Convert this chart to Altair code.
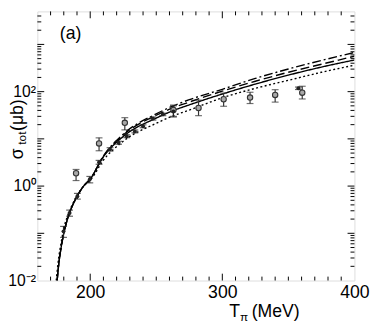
import altair as alt
import pandas as pd

# ---------------- data ----------------
# theoretical curves: T_pi (MeV) and log10(sigma)
curve_T = [174.3, 175, 176, 178, 180, 183, 186, 190, 195, 200, 210, 225, 250, 263, 275, 300, 325, 350, 375, 400]
solid_log = [-2.3, -2.0, -1.7, -1.3, -1.0, -0.68, -0.45, -0.22, 0.0, 0.15, 0.62, 1.05, 1.44, 1.60, 1.72, 1.95, 2.16, 2.35, 2.52, 2.67]
dash_log = [-2.3, -2.0, -1.7, -1.3, -1.0, -0.68, -0.45, -0.22, 0.0, 0.15, 0.63, 1.08, 1.50, 1.66, 1.78, 2.01, 2.22, 2.41, 2.58, 2.75]
dashdot_log = [-2.3, -2.0, -1.7, -1.3, -1.0, -0.68, -0.45, -0.22, 0.0, 0.15, 0.64, 1.10, 1.53, 1.70, 1.83, 2.05, 2.28, 2.48, 2.66, 2.83]
dotted_log = [-2.0, -1.8, -1.55, -1.2, -0.9, -0.62, -0.42, -0.20, 0.0, 0.12, 0.55, 0.95, 1.33, 1.49, 1.61, 1.87, 2.07, 2.24, 2.41, 2.56]

# open-circle data set
open_T = [189.3, 206.7, 226.2, 263, 282, 301, 321, 340, 360.5]
open_sig = [1.87, 8.0, 21.9, 41, 45, 69, 75, 85, 95]
open_lo = [1.31, 5.6, 15.5, 30, 31, 49, 56, 60, 70]
open_hi = [2.25, 10.5, 28.1, 52, 66, 93, 97, 110, 130]

# filled data set
fill_T = [179.8, 184.4, 190.3, 199.7, 206.7, 215, 221.5, 227.7, 233.8, 240, 247.5, 255, 263, 357.6]
fill_sig = [0.11, 0.27, 0.61, 1.39, 3.2, 6.0, 8.3, 11.4, 14.4, 18.5, 27, 33, 38, 118]
fill_lo = [0.082, 0.23, 0.53, 1.17, 2.9, 5.5, 7.7, 10.6, 13.4, 17.2, 25, 31, 29, 111]
fill_hi = [0.14, 0.31, 0.70, 1.60, 3.5, 6.5, 8.9, 12.2, 15.4, 19.8, 29, 35, 50, 125]

x_major = [200, 300]
x_minor = [170, 180, 190, 210, 220, 230, 240, 250, 260, 270, 280, 290, 310, 320, 330, 340, 350, 360, 370, 380, 390]
y_major = [0.1, 1, 10, 100, 1000]
y_minor = [m * 10.0 ** k for k in range(-2, 4) for m in range(2, 10) if m * 10.0 ** k < 5000]

# ---------------- layout ----------------
W, H = 324, 275
XDOM = [160, 400]
YDOM = [0.01, 5000]
FONT = "Liberation Sans"

xs = alt.Scale(domain=XDOM, nice=False, zero=False)
ys = alt.Scale(type="log", domain=YDOM, nice=False)

rows = []
for name, vals in [("solid", solid_log), ("dash", dash_log), ("dashdot", dashdot_log), ("dotted", dotted_log)]:
    for t, v in zip(curve_T, vals):
        rows.append({"T": t, "sigma": 10 ** v, "model": name})
curves = pd.DataFrame(rows)

lines = alt.Chart(curves).mark_line(clip=True, color="black", strokeWidth=1.4, interpolate="monotone").encode(
    x=alt.X("T:Q", scale=xs, axis=alt.Axis(values=[200, 300, 400], title=None, ticks=False, domain=False, grid=False,
                                           labelFont=FONT, labelFontSize=18, labelColor="black", labelPadding=3,
                                           labelFlush=False, format="d")),
    y=alt.Y("sigma:Q", scale=ys, axis=alt.Axis(values=[0.01, 1, 100], title=None, ticks=False, domain=False, grid=False,
                                               labelFont=FONT, labelFontSize=16, labelColor="black", labelPadding=2,
                                               labelFlush=False,
                                               labelExpr="datum.value < 0.1 ? '10\u207b\u00b2' : datum.value < 10 ? '10\u2070' : '10\u00b2'")),
    strokeDash=alt.StrokeDash("model:N", scale=alt.Scale(domain=["solid", "dash", "dashdot", "dotted"],
                                                          range=[[1, 0], [9, 4], [9, 3, 2, 3], [2, 2.5]]), legend=None),
    detail="model:N",
)

odf = pd.DataFrame({"T": open_T, "s": open_sig, "lo": open_lo, "hi": open_hi})
fdf = pd.DataFrame({"T": fill_T, "s": fill_sig, "lo": fill_lo, "hi": fill_hi})

def errbars(df, color):
    base = alt.Chart(df)
    r = base.mark_rule(color=color, strokeWidth=1.2).encode(x=alt.X("T:Q", scale=xs), y=alt.Y("lo:Q", scale=ys), y2="hi:Q")
    c1 = base.mark_tick(color=color, thickness=1.2, size=7, orient="horizontal").encode(x=alt.X("T:Q", scale=xs), y=alt.Y("lo:Q", scale=ys))
    c2 = base.mark_tick(color=color, thickness=1.2, size=7, orient="horizontal").encode(x=alt.X("T:Q", scale=xs), y=alt.Y("hi:Q", scale=ys))
    return r + c1 + c2

open_pts = alt.Chart(odf).mark_point(shape="circle", filled=True, fill="#a8a8a8", stroke="#333333", strokeWidth=1.1, size=30, opacity=1).encode(
    x=alt.X("T:Q", scale=xs), y=alt.Y("s:Q", scale=ys))
fill_pts = alt.Chart(fdf).mark_point(shape="circle", filled=True, color="#222222", size=16, opacity=1).encode(
    x=alt.X("T:Q", scale=xs), y=alt.Y("s:Q", scale=ys))

# inward ticks on all four sides
def xticks(vals, length):
    d = pd.DataFrame({"v": vals})
    b = alt.Chart(d).mark_rule(color="black", strokeWidth=1)
    bot = b.encode(x=alt.X("v:Q", scale=xs), y=alt.value(H), y2=alt.value(H - length))
    top = b.encode(x=alt.X("v:Q", scale=xs), y=alt.value(0), y2=alt.value(length))
    return bot + top

def yticks(vals, length):
    d = pd.DataFrame({"v": vals})
    b = alt.Chart(d).mark_rule(color="black", strokeWidth=1)
    left = b.encode(y=alt.Y("v:Q", scale=ys), x=alt.value(0), x2=alt.value(length))
    right = b.encode(y=alt.Y("v:Q", scale=ys), x=alt.value(W), x2=alt.value(W - length))
    return left + right

ticks = xticks(x_major, 7) + xticks(x_minor, 4) + yticks(y_major, 7) + yticks(y_minor, 4)

def txt(s, x, y, size, **kw):
    return alt.Chart(pd.DataFrame({"t": [s]})).mark_text(font=FONT, fontSize=size, color="black", **kw).encode(
        text="t:N", x=alt.value(x), y=alt.value(y))

label_a = txt("(a)", 34, 23, 18, align="center", baseline="middle")

# x title: T_pi (MeV)
xt1 = txt("T", 196, 312, 18, align="left", baseline="alphabetic")
xt2 = txt("\u03c0", 207, 316, 12, align="left", baseline="alphabetic")
xt3 = txt("(MeV)", 219, 312, 18, align="left", baseline="alphabetic")

# y title: sigma_tot (mu b), rotated
yt1 = txt("\u03c3", -20, 145.5, 18, angle=270, align="center", baseline="middle")
yt2 = txt("tot", -16, 129.5, 12, angle=270, align="center", baseline="middle")
yt3 = txt("(\u03bcb)", -20, 106, 18, angle=270, align="center", baseline="middle")

chart = alt.layer(
    lines, errbars(odf, "#333333"), errbars(fdf, "#222222"), open_pts, fill_pts, ticks,
    label_a, xt1, xt2, xt3, yt1, yt2, yt3
).properties(
    width=W, height=H,
    autosize=alt.AutoSizeParams(type="none"),
    padding={"left": 30, "top": 0, "right": 20, "bottom": 44},
).configure_view(stroke="black", strokeWidth=1.3).configure(background="white")

chart.save("out.html", embed_options={"renderer": "svg", "actions": False})
